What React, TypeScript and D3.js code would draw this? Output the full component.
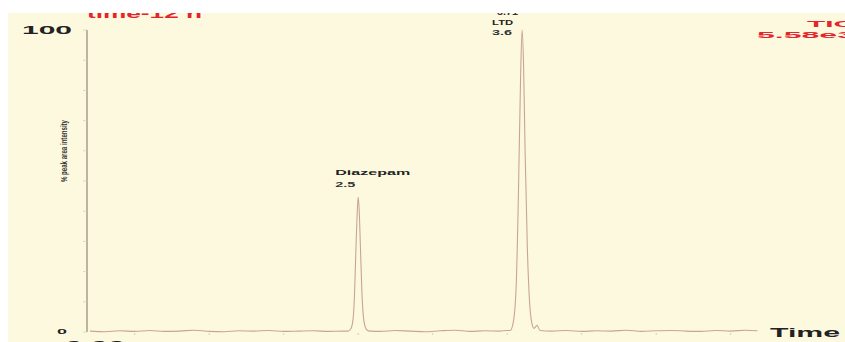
import React from "react";
import * as d3 from "d3";

// chromatogram trace (time in min, % peak area intensity)
const baseTimes = [0.7, 0.8, 0.9, 1.0, 1.1, 1.2, 1.3, 1.4, 1.5, 1.6, 1.7, 1.8, 1.9, 2.0, 2.1, 2.2, 2.3, 2.4];
const baseValues = [0.3, 0.1, 0.4, 0.2, 0.5, 0.2, 0.3, 0.6, 0.2, 0.1, 0.4, 0.3, 0.5, 0.2, 0.3, 0.4, 0.2, 0.3];

const peak1Times = [2.43, 2.45, 2.465, 2.475, 2.485, 2.493, 2.5, 2.507, 2.515, 2.525, 2.535, 2.545, 2.56, 2.58];
const peak1Values = [0.3, 1, 4, 12, 28, 39, 44.7, 40, 28, 13, 5, 2, 0.6, 0.3];

const midTimes = [2.65, 2.75, 2.85, 2.95, 3.05, 3.15, 3.25, 3.35, 3.45, 3.5];
const midValues = [0.2, 0.5, 0.3, 0.1, 0.4, 0.6, 0.2, 0.4, 0.3, 0.5];

const peak2Times = [3.52, 3.54, 3.56, 3.575, 3.59, 3.6, 3.61, 3.62, 3.635, 3.65, 3.665, 3.68, 3.7, 3.72];
const peak2Values = [0.5, 3, 15, 45, 85, 100, 88, 60, 28, 10, 3, 1.2, 2.2, 0.5];

const tailTimes = [3.8, 3.9, 4.0, 4.1, 4.2, 4.3, 4.4, 4.5, 4.6, 4.7, 4.8, 4.9, 5.0, 5.1, 5.18];
const tailValues = [0.3, 0.5, 0.2, 0.4, 0.3, 0.6, 0.2, 0.4, 0.5, 0.3, 0.2, 0.5, 0.3, 0.6, 0.4];

const peakNames = ["Diazepam", "LTD"];
const peakTimes = [2.5, 3.6];
const peakHeights = [44.7, 100];

const yTicks = [0, 10, 20, 30, 40, 50, 60, 70, 80, 90, 100];
const yTickLabels = ["0", "100"];

export default function App() {
  const width = 845;
  const height = 342;

  const x = d3.scaleLinear().domain([0.68, 5.23]).range([87, 765]);
  const y = d3.scaleLinear().domain([0, 100]).range([332, 30]);

  const times = [...baseTimes, ...peak1Times, ...midTimes, ...peak2Times, ...tailTimes];
  const values = [...baseValues, ...peak1Values, ...midValues, ...peak2Values, ...tailValues];
  const pts: [number, number][] = times.map((t, i) => [t, values[i]]);

  const line = d3
    .line<[number, number]>()
    .x((d) => x(d[0]))
    .y((d) => y(d[1]))
    .curve(d3.curveMonotoneX);

  const bold = "'Liberation Sans', Arial, sans-serif";

  return (
    <svg
      width={width}
      height={height}
      style={{ position: "fixed", left: 0, top: 0, display: "block" }}
    >
      <rect x={0} y={0} width={width} height={height} fill="#fdf9df" />

      {/* y axis */}
      <line x1={x(0.68)} x2={x(0.68)} y1={y(100)} y2={y(0)} stroke="#9a907c" strokeWidth={1.3} />
      {yTicks.map((t) => (
        <line key={t} x1={x(0.68) - 4} x2={x(0.68)} y1={y(t)} y2={y(t)} stroke="#d6cfb9" strokeWidth={0.8} />
      ))}

      {/* x ticks under the baseline */}
      {d3.range(1, 5.01, 0.5).map((t) => (
        <line key={t} x1={x(t)} x2={x(t)} y1={y(0) + 1} y2={y(0) + 3} stroke="#d2c3b0" strokeWidth={0.8} />
      ))}

      {/* trace */}
      <path d={line(pts) ?? ""} fill="none" stroke="#caa58e" strokeWidth={1.1} />

      {/* y tick labels */}
      <text x={22} y={y(100) + 3.5} fontFamily={bold} fontWeight="bold" fontSize={10} textLength={50} lengthAdjust="spacingAndGlyphs" fill="#222">
        {yTickLabels[1]}
      </text>
      <text x={57} y={y(0) + 2} fontFamily={bold} fontWeight="bold" fontSize={7} textLength={10} lengthAdjust="spacingAndGlyphs" fill="#222">
        {yTickLabels[0]}
      </text>
      <text x={55} y={351} fontFamily={bold} fontWeight="bold" fontSize={14} textLength={70} lengthAdjust="spacingAndGlyphs" fill="#222">
        -0.00
      </text>

      {/* axis titles */}
      <text
        transform={`translate(67,151) rotate(-90)`}
        textAnchor="middle"
        fontFamily={bold}
        fontWeight="bold"
        fontSize={9}
        textLength={62}
        lengthAdjust="spacingAndGlyphs"
        fill="#333"
      >
        % peak area intensity
      </text>
      <text x={770} y={337} fontFamily={bold} fontWeight="bold" fontSize={12} textLength={70} lengthAdjust="spacingAndGlyphs" fill="#222">
        Time
      </text>

      {/* peak labels */}
      {peakNames.map((n, i) => {
        const px = x(peakTimes[i]);
        const py = y(peakHeights[i]);
        const off = i === 0 ? -23 : -30;
        return (
          <g key={n}>
            <text x={px + off} y={py - (i === 0 ? 22 : 5)} fontFamily={bold} fontWeight="bold" fontSize={i === 0 ? 7.5 : 6.5} textLength={i === 0 ? 75 : 21} lengthAdjust="spacingAndGlyphs" fill="#222">
              {n}
            </text>
            <text x={px + off} y={py - (i === 0 ? 10 : -5)} fontFamily={bold} fontWeight="bold" fontSize={7} textLength={20} lengthAdjust="spacingAndGlyphs" fill="#333">
              {peakTimes[i].toFixed(1)}
            </text>
          </g>
        );
      })}
      <text x={497} y={15} fontFamily={bold} fontWeight="bold" fontSize={9} textLength={21} lengthAdjust="spacingAndGlyphs" fill="#333">
        3.71
      </text>

      {/* red header texts */}
      <text x={87} y={18} fontFamily={bold} fontWeight="bold" fontSize={13} textLength={115} lengthAdjust="spacingAndGlyphs" fill="#e4262c">
        time-12 h
      </text>
      <text x={807} y={27} fontFamily={bold} fontWeight="bold" fontSize={8.5} textLength={48} lengthAdjust="spacingAndGlyphs" fill="#e4262c">
        TIC
      </text>
      <text x={757} y={38} fontFamily={bold} fontWeight="bold" fontSize={8.5} textLength={98} lengthAdjust="spacingAndGlyphs" fill="#e4262c">
        5.58e3
      </text>

      {/* white margins of the scan */}
      <rect x={0} y={0} width={width} height={13} fill="#fff" />
      <rect x={0} y={0} width={8} height={height} fill="#fff" />
    </svg>
  );
}
